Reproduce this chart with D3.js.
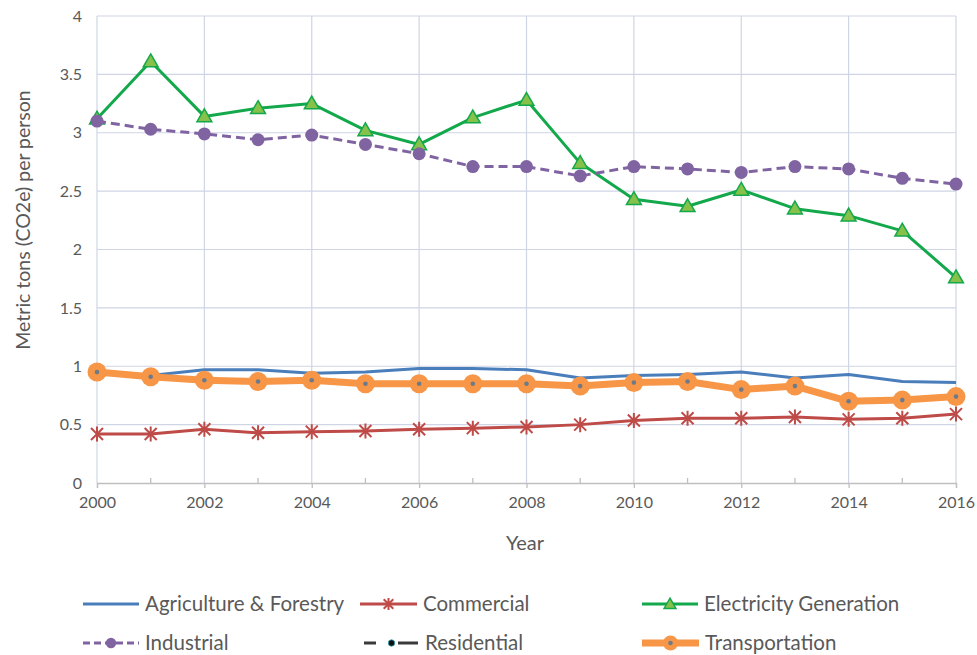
<!DOCTYPE html>
<html>
<head>
<meta charset="utf-8">
<script src="https://cdn.jsdelivr.net/npm/d3@7"></script>
<style>
  html, body { margin: 0; padding: 0; background: #fff; }
  svg { display: block; font-family: Lato, "Open Sans", sans-serif; }
</style>
</head>
<body>
<svg id="chart" width="977" height="655"></svg>
<script>
// Per-capita emissions by sector, metric tons CO2e per person
const years = [2000, 2001, 2002, 2003, 2004, 2005, 2006, 2007, 2008, 2009, 2010, 2011, 2012, 2013, 2014, 2015, 2016];
const agriculture = [0.95, 0.92, 0.97, 0.97, 0.94, 0.95, 0.98, 0.98, 0.97, 0.90, 0.92, 0.93, 0.95, 0.90, 0.93, 0.87, 0.86];
const commercial = [0.42, 0.42, 0.46, 0.43, 0.44, 0.445, 0.46, 0.47, 0.48, 0.50, 0.535, 0.555, 0.555, 0.565, 0.545, 0.555, 0.59];
const electricity = [3.12, 3.61, 3.14, 3.21, 3.25, 3.02, 2.90, 3.13, 3.28, 2.74, 2.43, 2.37, 2.51, 2.35, 2.29, 2.16, 1.76];
const industrial = [3.10, 3.03, 2.99, 2.94, 2.98, 2.90, 2.82, 2.71, 2.71, 2.63, 2.71, 2.69, 2.66, 2.71, 2.69, 2.61, 2.56];
const residential = []; // no values reported for this sector
const transportation = [0.95, 0.91, 0.88, 0.87, 0.88, 0.85, 0.85, 0.85, 0.85, 0.83, 0.86, 0.87, 0.80, 0.83, 0.70, 0.71, 0.74];
const yTicks = [0, 0.5, 1, 1.5, 2, 2.5, 3, 3.5, 4];
const xTicks = [2000, 2002, 2004, 2006, 2008, 2010, 2012, 2014, 2016];

const series = [
  { name: "Agriculture & Forestry", values: agriculture, color: "#4a7ebb", width: 3, dash: null, marker: "none" },
  { name: "Commercial", values: commercial, color: "#be4b48", width: 3, dash: null, marker: "star" },
  { name: "Electricity Generation", values: electricity, color: "#13a84b", width: 3, dash: null, marker: "triangle" },
  { name: "Industrial", values: industrial, color: "#8064a2", width: 3, dash: "9,5", marker: "circle" },
  { name: "Residential", values: residential, color: "#3a3a3a", width: 3, dash: "12,8", marker: "dot" },
  { name: "Transportation", values: transportation, color: "#f79646", width: 7, dash: null, marker: "ring" }
];

const svg = d3.select("#chart");
const x = d3.scaleLinear().domain([2000, 2016]).range([97, 956]);
const y = d3.scaleLinear().domain([0, 4]).range([483, 16]);
const gridColor = "#cfd5e4";
const textColor = "#595959";

// Gridlines
const grid = svg.append("g");
grid.selectAll("line.h").data(yTicks.filter(d => d > 0)).join("line")
  .attr("x1", x(2000)).attr("x2", x(2016))
  .attr("y1", d => y(d)).attr("y2", d => y(d))
  .attr("stroke", gridColor).attr("stroke-width", 1.2);
grid.selectAll("line.v").data(xTicks).join("line")
  .attr("x1", d => x(d)).attr("x2", d => x(d))
  .attr("y1", y(4)).attr("y2", y(0))
  .attr("stroke", gridColor).attr("stroke-width", 1.2);

// Y axis labels
const yAxis = d3.axisLeft(y).tickValues(yTicks).tickFormat(d3.format("")).tickSize(0).tickPadding(15);
const gy = svg.append("g").attr("transform", `translate(${x(2000)},0)`).call(yAxis);
gy.select(".domain").remove();
gy.selectAll("text").attr("fill", textColor).style("font-size", "16px").style("font-family", "Lato, sans-serif");

// X axis: major ticks outward on even years, minor ticks inward on odd years
const xAxis = d3.axisBottom(x).tickValues(xTicks).tickFormat(d3.format("d")).tickSize(5).tickPadding(9);
const gx = svg.append("g").attr("transform", `translate(0,${y(0)})`).call(xAxis);
gx.select(".domain").attr("stroke", "#bfbfbf").attr("stroke-width", 1.3);
gx.selectAll(".tick line").attr("stroke", "#bfbfbf").attr("stroke-width", 1.3);
gx.selectAll("text").attr("fill", textColor).style("font-size", "16px").style("font-family", "Lato, sans-serif");
svg.append("g").selectAll("line").data(years.filter(d => d % 2 === 1)).join("line")
  .attr("x1", d => x(d)).attr("x2", d => x(d))
  .attr("y1", y(0) - 5).attr("y2", y(0))
  .attr("stroke", "#bfbfbf").attr("stroke-width", 1.3);

// Axis titles
svg.append("text").attr("x", 525).attr("y", 550).attr("text-anchor", "middle")
  .attr("fill", textColor).style("font-size", "20px").text("Year");
svg.append("text").attr("transform", "translate(30,220) rotate(-90)").attr("text-anchor", "middle")
  .attr("fill", textColor).style("font-size", "19.5px").text("Metric tons (CO2e) per person");

// Marker drawing
const starPath = r => `M${-r},${-r}L${r},${r}M${-r},${r}L${r},${-r}M0,${-r * 1.25}L0,${r * 1.25}`;
function drawMarker(g, s, scale = 1) {
  if (s.marker === "star") {
    g.append("path").attr("d", starPath(6 * scale)).attr("stroke", s.color).attr("stroke-width", 2).attr("fill", "none");
  } else if (s.marker === "triangle") {
    g.append("path").attr("d", d3.symbol(d3.symbolTriangle, 95 * scale * scale)())
      .attr("transform", "translate(0,1)")
      .attr("fill", "#86c24a").attr("stroke", s.color).attr("stroke-width", 1.5);
  } else if (s.marker === "circle") {
    g.append("circle").attr("r", 6.5 * scale).attr("fill", s.color);
  } else if (s.marker === "dot") {
    g.append("circle").attr("r", 4 * scale).attr("fill", "#111").attr("stroke", "#2aa6b8").attr("stroke-width", 0.8);
  } else if (s.marker === "ring") {
    g.append("circle").attr("r", 9.5 * scale).attr("fill", s.color);
    g.append("circle").attr("r", 2.3).attr("fill", "#6f7a88");
  }
}

// Series lines and markers
const line = d3.line().x(d => x(d.year)).y(d => y(d.value));
series.forEach(s => {
  const pts = s.values.map((v, i) => ({ year: years[i], value: v }));
  const g = svg.append("g");
  if (!pts.length) return;
  g.append("path").datum(pts).attr("d", line)
    .attr("fill", "none").attr("stroke", s.color).attr("stroke-width", s.width)
    .attr("stroke-linejoin", "round")
    .attr("stroke-dasharray", s.dash);
  if (s.marker !== "none") {
    pts.forEach(p => {
      const m = g.append("g").attr("transform", `translate(${x(p.year)},${y(p.value)})`);
      drawMarker(m, s);
    });
  }
});

// Legend
const legendPos = [
  { lx: 83, tx: 145, ty: 604 },
  { lx: 360, tx: 423, ty: 604 },
  { lx: 642, tx: 704, ty: 604 },
  { lx: 83, tx: 145, ty: 643 },
  { lx: 364, tx: 425, ty: 643 },
  { lx: 642, tx: 705, ty: 643 }
];
series.forEach((s, i) => {
  const p = legendPos[i];
  const g = svg.append("g");
  const x0 = p.lx, x1 = p.tx - 6;
  g.append("line").attr("x1", x0).attr("x2", x1).attr("y1", p.ty).attr("y2", p.ty)
    .attr("stroke", s.color).attr("stroke-width", s.width)
    .attr("stroke-dasharray", s.dash ? (s.marker === "dot" ? "12,11,0,11,20" : "7,4") : null);
  if (s.marker !== "none") {
    const m = g.append("g").attr("transform", `translate(${(x0 + x1) / 2},${p.ty})`);
    drawMarker(m, s, 0.8);
  }
  g.append("text").attr("x", p.tx).attr("y", p.ty).attr("dy", "0.35em")
    .attr("fill", textColor).style("font-size", "20.5px").text(s.name);
});
</script>
</body>
</html>
